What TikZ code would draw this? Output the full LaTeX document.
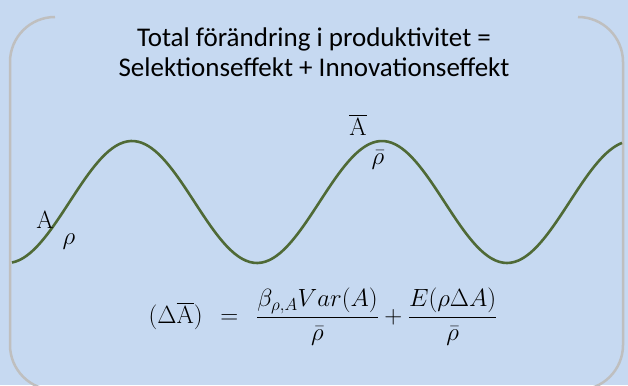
\documentclass[tikz,border=0pt]{standalone}
\usepackage{amsmath}
\usepackage[no-math]{fontspec}
\setmainfont{Carlito}
\begin{document}
\begin{tikzpicture}[x=1pt,y=1pt,
  frame/.style={draw=black!25,line width=2.5pt},
  wave/.style={draw=wavegreen,line width=2.6pt},
  title/.style={font=\fontsize{27}{30}\selectfont,align=center,inner sep=0pt},
  lab/.style={font=\fontsize{24}{28}\selectfont,inner sep=0pt},
  rholab/.style={font=\fontsize{27}{30}\selectfont,inner sep=0pt},
  eq/.style={font=\fontsize{24}{28}\selectfont,inner sep=0pt}]
\definecolor{bgblue}{HTML}{C6D9F1}
\definecolor{wavegreen}{HTML}{4F6A36}
\useasboundingbox (0,0) rectangle (628,385);
\fill[bgblue] (0,0) rectangle (628,385);
\begin{scope}
\clip (0,0) rectangle (628,385);
\draw[frame] (55,368) arc[start angle=90,end angle=180,radius=45] -- (10,40) arc[start angle=180,end angle=270,radius=45];
\draw[frame] (578,368) arc[start angle=90,end angle=0,radius=45] -- (623,40) arc[start angle=0,end angle=-90,radius=45];
\end{scope}
\draw[wave,domain=12:622,samples=160,smooth] plot ({\x},{183+61*cos(1.44*(\x-132))});
\node[title] (t) at (314,333) {Total förändring i produktivitet =\\Selektionseffekt + Innovationseffekt};
\node[lab] (a1) at (45,165) {$\mathrm{A}$};
\node[rholab] (r1) at (69,143) {$\rho$};
\node[lab] (a2) at (358,260) {$\overline{\mathrm{A}}$};
\node[rholab] (r2) at (378,225) {$\bar{\rho}$};
\node[eq] (eq) at (323,68) {$(\Delta\overline{\mathrm{A}})\ \ =\ \ \dfrac{\beta_{\rho,A}Var(A)}{\bar{\rho}}+\dfrac{E(\rho\Delta A)}{\bar{\rho}}$};
\end{tikzpicture}
\end{document}
